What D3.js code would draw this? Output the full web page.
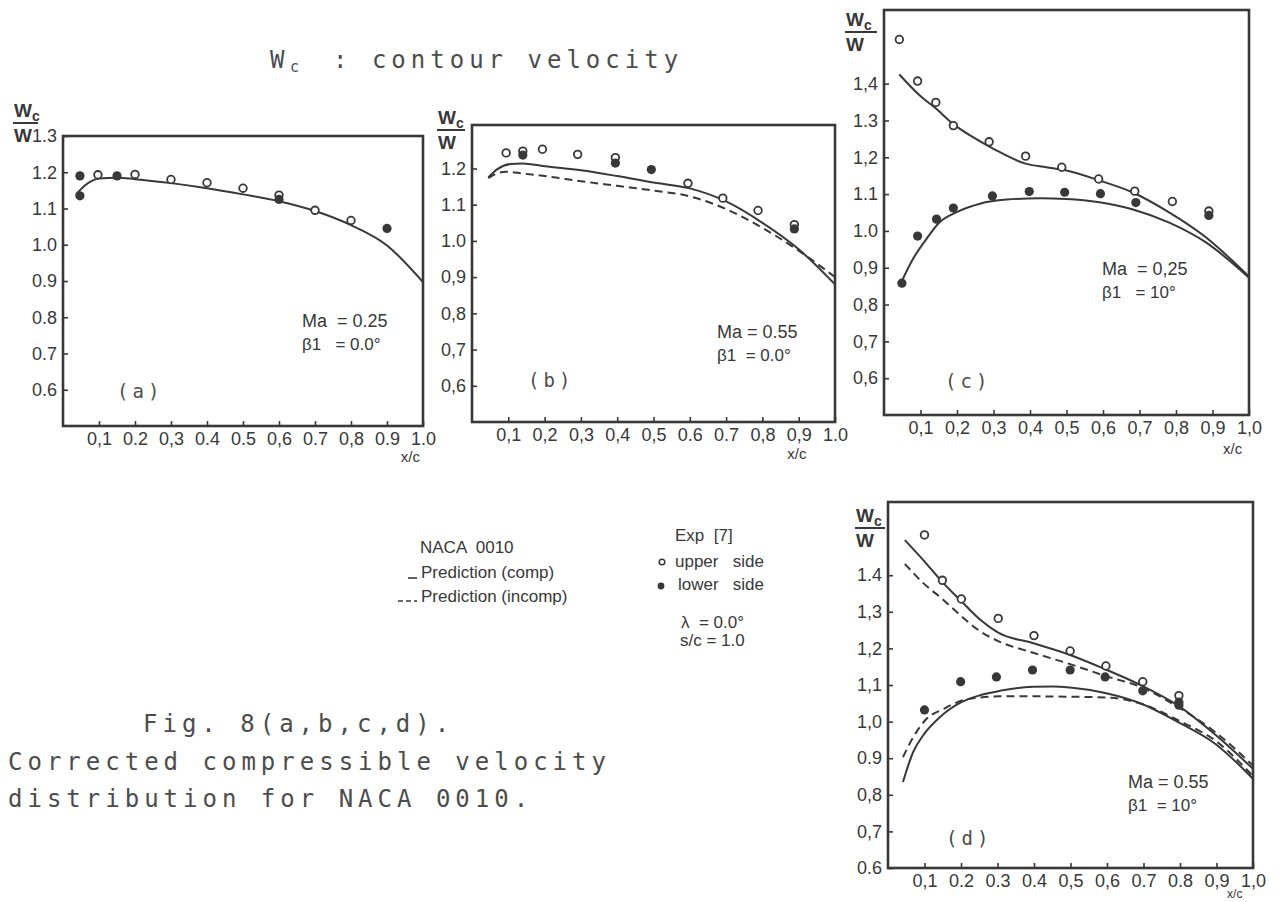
<!DOCTYPE html>
<html>
<head>
<meta charset="utf-8">
<script src="https://cdn.jsdelivr.net/npm/d3@7"></script>
<style>
body{margin:0;background:#fff}
svg{display:block}
</style>
</head>
<body>
<svg id="fig" width="1279" height="902"></svg>
<script>
// tick positions along x/c
const xTicks = [0.1,0.2,0.3,0.4,0.5,0.6,0.7,0.8,0.9,1.0]
const yTicksA = [0.6,0.7,0.8,0.9,1.0,1.1,1.2,1.3]
const yTicksB = [0.6,0.7,0.8,0.9,1.0,1.1,1.2]
const yTicksC = [0.6,0.7,0.8,0.9,1.0,1.1,1.2,1.3,1.4]

// tick labels as printed (scan mixes commas and dots)
const aXLabels = ["0,1","0.2","0,3","0.4","0.5","0,6","0.7","0,8","0.9","1.0"]
const aYLabels = ["0.6","0.7","0.8","0.9","1.0","1.1","1.2","1.3"]
const bXLabels = ["0,1","0,2","0,3","0,4","0,5","0.6","0.7","0,8","0,9","1.0"]
const bYLabels = ["0,6","0,7","0,8","0,9","1.0","1.1","1.2"]
const cXLabels = ["0,1","0,2","0,3","0,4","0,5","0,6","0,7","0,8","0,9","1,0"]
const cYLabels = ["0,6","0,7","0,8","0,9","1.0","1.1","1,2","1.3","1,4"]
const dXLabels = ["0,1","0.2","0.3","0.4","0,5","0,6","0.7","0.8","0,9","1,0"]
const dYLabels = ["0.6","0,7","0,8","0.9","1,0","1,1","1,2","1,3","1.4"]

// (a) Ma=0.25, beta1=0
const aComp = [[0.036,1.139],[0.06,1.163],[0.1,1.183],[0.15,1.185],[0.2,1.181],[0.3,1.17],[0.4,1.156],[0.5,1.139],[0.6,1.12],[0.7,1.093],[0.8,1.054],[0.9,0.998],[1.0,0.897]]
const aUpper = [[0.097,1.193],[0.2,1.194],[0.3,1.18],[0.4,1.171],[0.5,1.156],[0.6,1.137],[0.7,1.095],[0.8,1.067]]
const aLower = [[0.047,1.19],[0.047,1.135],[0.15,1.19],[0.6,1.125],[0.9,1.045]]

// (b) Ma=0.55, beta1=0
const bComp = [[0.045,1.175],[0.07,1.198],[0.105,1.212],[0.14,1.214],[0.2,1.206],[0.3,1.195],[0.4,1.179],[0.5,1.161],[0.6,1.145],[0.7,1.109],[0.8,1.05],[0.9,0.977],[1.0,0.88]]
const bIncomp = [[0.045,1.173],[0.07,1.187],[0.095,1.191],[0.14,1.186],[0.2,1.179],[0.3,1.165],[0.4,1.152],[0.5,1.139],[0.6,1.123],[0.7,1.088],[0.8,1.036],[0.9,0.973],[1.0,0.9]]
const bUpper = [[0.094,1.243],[0.14,1.248],[0.194,1.253],[0.291,1.239],[0.395,1.23],[0.595,1.159],[0.691,1.118],[0.788,1.084],[0.888,1.045]]
const bLower = [[0.14,1.237],[0.395,1.215],[0.494,1.197],[0.888,1.033]]

// (c) Ma=0.25, beta1=10
const cCompUpper = [[0.042,1.425],[0.099,1.367],[0.144,1.331],[0.19,1.29],[0.245,1.254],[0.3,1.223],[0.39,1.182],[0.445,1.173],[0.5,1.164],[0.59,1.137],[0.68,1.105],[0.78,1.051],[0.88,0.984],[1.0,0.876]]
const cCompLower = [[0.048,0.862],[0.08,0.925],[0.117,0.979],[0.153,1.024],[0.199,1.051],[0.263,1.074],[0.336,1.085],[0.427,1.089],[0.5,1.087],[0.59,1.078],[0.68,1.059],[0.78,1.023],[0.88,0.97],[1.0,0.873]]
const cUpper = [[0.042,1.52],[0.092,1.407],[0.142,1.349],[0.19,1.286],[0.288,1.242],[0.388,1.203],[0.487,1.173],[0.588,1.141],[0.687,1.108],[0.79,1.08],[0.89,1.054]]
const cLower = [[0.049,0.858],[0.092,0.986],[0.144,1.032],[0.19,1.062],[0.297,1.095],[0.398,1.107],[0.495,1.105],[0.593,1.101],[0.69,1.077],[0.89,1.042]]

// (d) Ma=0.55, beta1=10
const dCompUpper = [[0.046,1.496],[0.096,1.442],[0.151,1.379],[0.201,1.329],[0.252,1.279],[0.302,1.243],[0.398,1.214],[0.499,1.182],[0.595,1.143],[0.696,1.098],[0.796,1.043],[0.897,0.964],[1.0,0.871]]
const dIncompUpper = [[0.046,1.431],[0.096,1.379],[0.151,1.333],[0.201,1.288],[0.252,1.247],[0.302,1.22],[0.398,1.188],[0.499,1.157],[0.595,1.125],[0.696,1.093],[0.796,1.039],[0.897,0.971],[1.0,0.88]]
const dCompLower = [[0.041,0.835],[0.069,0.917],[0.096,0.962],[0.142,1.012],[0.201,1.053],[0.252,1.072],[0.306,1.084],[0.398,1.095],[0.453,1.096],[0.499,1.093],[0.595,1.078],[0.696,1.048],[0.796,0.998],[0.897,0.939],[1.0,0.844]]
const dIncompLower = [[0.041,0.903],[0.069,0.957],[0.105,1.007],[0.151,1.034],[0.201,1.057],[0.252,1.066],[0.306,1.069],[0.398,1.069],[0.499,1.068],[0.6,1.066],[0.696,1.048],[0.796,1.003],[0.897,0.948],[1.0,0.851]]
const dUpper = [[0.1,1.51],[0.149,1.386],[0.201,1.335],[0.302,1.282],[0.4,1.235],[0.499,1.193],[0.597,1.152],[0.698,1.109],[0.797,1.071]]
const dLower = [[0.1,1.032],[0.199,1.109],[0.297,1.122],[0.396,1.141],[0.499,1.141],[0.595,1.122],[0.698,1.084],[0.797,1.053],[0.797,1.045]]

const ink = "#383838"
const typeInk = "#4c4c4c"
const numFont = "'Liberation Sans Narrow','Liberation Sans',sans-serif"
const monoFont = "'DejaVu Sans Mono',monospace"

let svg = d3.select("#fig")

let panels = [
  {left:63, right:423, top:136, bottom:426, ymin:0.5, ymax:1.3, yTicks:yTicksA, xLab:aXLabels, yLab:aYLabels,
   comp:[aComp], incomp:[], upper:aUpper, lower:aLower, frac:[13,38,123], xc:[0.965,36,15],
   ma:"Ma  = 0.25", beta:"\u03B21   = 0.0\u00B0", mx:302, my:327, tag:"(a)", tx:117, ty:398},
  {left:472, right:835, top:125, bottom:422, ymin:0.5, ymax:1.32, yTicks:yTicksB, xLab:bXLabels, yLab:bYLabels,
   comp:[bComp], incomp:[bIncomp], upper:bUpper, lower:bLower, frac:[437,465,130], xc:[0.895,37,15],
   ma:"Ma = 0.55", beta:"\u03B21  = 0.0\u00B0", mx:717, my:338, tag:"(b)", tx:528, ty:387},
  {left:884, right:1249, top:10, bottom:415, ymin:0.5, ymax:1.6, yTicks:yTicksC, xLab:cXLabels, yLab:cYLabels,
   comp:[cCompUpper,cCompLower], incomp:[], upper:cUpper, lower:cLower, frac:[845,877,32], xc:[0.955,39,15],
   ma:"Ma  = 0,25", beta:"\u03B21   = 10\u00B0", mx:1102, my:275, tag:"(c)", tx:945, ty:388},
  {left:888, right:1253, top:502, bottom:868, ymin:0.6, ymax:1.6, yTicks:yTicksC, xLab:dXLabels, yLab:dYLabels,
   comp:[dCompUpper,dCompLower], incomp:[dIncompUpper,dIncompLower], upper:dUpper, lower:dLower, frac:[855,885,528], xc:[0.95,30,12],
   ma:"Ma = 0.55", beta:"\u03B21  = 10\u00B0", mx:1128, my:788, tag:"(d)", tx:946, ty:845}
]

panels.forEach(function(p){
  let x = d3.scaleLinear().domain([0,1]).range([p.left,p.right])
  let y = d3.scaleLinear().domain([p.ymin,p.ymax]).range([p.bottom,p.top])
  let g = svg.append("g")

  // x axis: small ticks pointing inward
  let xa = g.append("g")
    .attr("transform","translate(0,"+p.bottom+")")
    .call(d3.axisBottom(x).tickValues(xTicks).tickSizeInner(-5).tickSizeOuter(0).tickPadding(6)
      .tickFormat(function(d,i){return p.xLab[i]}))
  xa.select(".domain").remove()
  xa.selectAll("line").attr("stroke",ink).attr("stroke-width",1.6)
  xa.selectAll("text").attr("fill",ink).style("font-family",numFont).style("font-size","18px")

  let ya = g.append("g")
    .attr("transform","translate("+p.left+",0)")
    .call(d3.axisLeft(y).tickValues(p.yTicks).tickSizeInner(-5).tickSizeOuter(0).tickPadding(6)
      .tickFormat(function(d,i){return p.yLab[i]}))
  ya.select(".domain").remove()
  ya.selectAll("line").attr("stroke",ink).attr("stroke-width",1.6)
  ya.selectAll("text").attr("fill",ink).style("font-family",numFont).style("font-size","18px")

  // frame
  g.append("rect")
    .attr("x",p.left).attr("y",p.top)
    .attr("width",p.right-p.left).attr("height",p.bottom-p.top)
    .attr("fill","none").attr("stroke",ink).attr("stroke-width",2.6)

  // curves
  let line = d3.line().x(function(d){return x(d[0])}).y(function(d){return y(d[1])}).curve(d3.curveMonotoneX)
  p.comp.forEach(function(s){
    g.append("path").attr("d",line(s)).attr("fill","none").attr("stroke",ink).attr("stroke-width",2)
  })
  p.incomp.forEach(function(s){
    g.append("path").attr("d",line(s)).attr("fill","none").attr("stroke",ink).attr("stroke-width",2)
      .attr("stroke-dasharray","8,5")
  })

  // experimental points
  g.selectAll(".up").data(p.upper).enter().append("circle")
    .attr("cx",function(d){return x(d[0])}).attr("cy",function(d){return y(d[1])})
    .attr("r",3.8).attr("fill","#fff").attr("stroke",ink).attr("stroke-width",1.8)
  g.selectAll(".lo").data(p.lower).enter().append("circle")
    .attr("cx",function(d){return x(d[0])}).attr("cy",function(d){return y(d[1])})
    .attr("r",4.6).attr("fill",ink)

  // x/c label
  g.append("text").attr("x",x(p.xc[0])).attr("y",p.bottom+p.xc[1]).attr("text-anchor","middle")
    .attr("fill",ink).style("font-family",numFont).style("font-size",p.xc[2]+"px").text("x/c")

  // Wc / W fraction
  let f = p.frac
  let num = g.append("text").attr("x",f[0]+1).attr("y",f[2]-6).attr("fill",ink)
    .style("font-family",numFont).style("font-size","19px").style("font-weight","bold").text("W")
  num.append("tspan").attr("dy",4).style("font-size","14px").text("c")
  g.append("line").attr("x1",f[0]).attr("x2",f[1]).attr("y1",f[2]).attr("y2",f[2])
    .attr("stroke",ink).attr("stroke-width",2)
  g.append("text").attr("x",f[0]+1).attr("y",f[2]+19).attr("fill",ink)
    .style("font-family",numFont).style("font-size","19px").style("font-weight","bold").text("W")

  // case annotation
  g.append("text").attr("x",p.mx).attr("y",p.my).attr("fill",ink)
    .style("font-family",numFont).style("font-size","18px").attr("xml:space","preserve").text(p.ma)
  g.append("text").attr("x",p.mx).attr("y",p.my+23).attr("fill",ink)
    .style("font-family",numFont).style("font-size","17px").attr("xml:space","preserve").text(p.beta)
  g.append("text").attr("x",p.tx).attr("y",p.ty).attr("fill",typeInk)
    .style("font-family",monoFont).style("font-size","19px").style("letter-spacing","4px").text(p.tag)
})

// title
let title = svg.append("g").attr("fill",typeInk).style("font-family",monoFont).style("font-size","24px")
title.append("text").attr("x",270).attr("y",68).text("W")
title.append("text").attr("x",290).attr("y",72).style("font-size","15px").text("c")
title.append("text").attr("x",333).attr("y",68).style("letter-spacing","5px").attr("xml:space","preserve").text(": contour velocity")

// caption
let cap = svg.append("g").attr("fill",typeInk).style("font-family",monoFont).style("font-size","24px")
  .style("letter-spacing","5px").attr("xml:space","preserve")
cap.append("text").attr("x",143).attr("y",732).text("Fig.  8(a,b,c,d).")
cap.append("text").attr("x",8).attr("y",770).text("Corrected compressible velocity")
cap.append("text").attr("x",8).attr("y",807).text("distribution for NACA 0010.")

// legend
let lg = svg.append("g").attr("fill",ink).style("font-family",numFont).style("font-size","17px")
lg.append("text").attr("x",420).attr("y",553).text("NACA  0010").attr("xml:space","preserve")
lg.append("line").attr("x1",408).attr("x2",417).attr("y1",578).attr("y2",578).attr("stroke",ink).attr("stroke-width",1.6)
lg.append("text").attr("x",421).attr("y",578).text("Prediction (comp)")
lg.append("line").attr("x1",398).attr("x2",417).attr("y1",601).attr("y2",601).attr("stroke",ink).attr("stroke-width",1.6)
  .attr("stroke-dasharray","5,3")
lg.append("text").attr("x",421).attr("y",602).text("Prediction (incomp)")
lg.append("text").attr("x",675).attr("y",541).text("Exp  [7]").attr("xml:space","preserve")
lg.append("circle").attr("cx",662).attr("cy",562).attr("r",2.8).attr("fill","#fff").attr("stroke",ink).attr("stroke-width",1.5)
lg.append("text").attr("x",675).attr("y",567).text("upper   side").attr("xml:space","preserve")
lg.append("circle").attr("cx",661).attr("cy",586).attr("r",3.4).attr("fill",ink)
lg.append("text").attr("x",678).attr("y",590).text("lower   side").attr("xml:space","preserve")
lg.append("text").attr("x",681).attr("y",628).text("\u03BB  = 0.0\u00B0").attr("xml:space","preserve")
lg.append("text").attr("x",680).attr("y",646).text("s/c = 1.0")
</script>
</body>
</html>
